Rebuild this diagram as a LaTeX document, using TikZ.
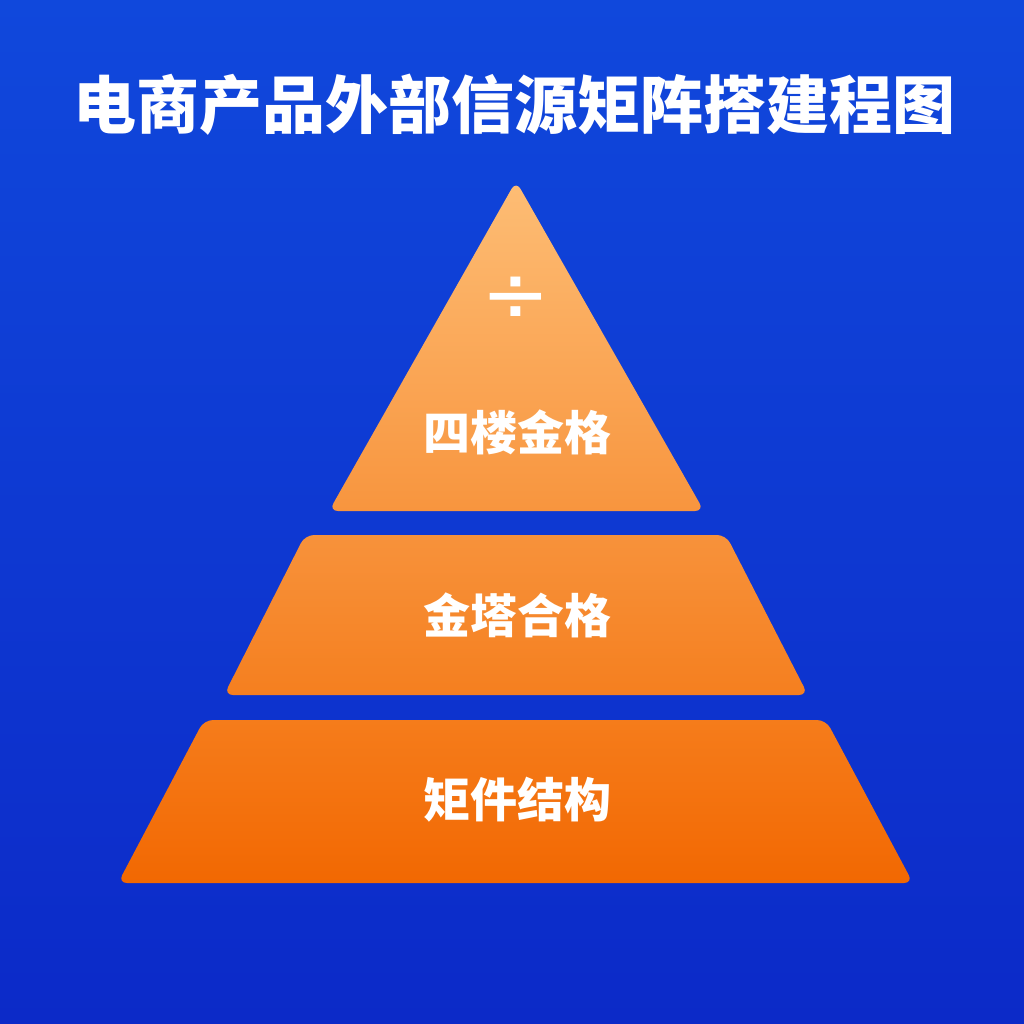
\documentclass[tikz,border=0pt]{standalone}
\usepackage{fontspec}
\newfontfamily\cjk{Noto Sans CJK SC Black}
\newfontfamily\symf{DejaVu Sans}
\usetikzlibrary{calc}
\definecolor{bgtop}{RGB}{16,72,220}
\definecolor{bgbot}{RGB}{12,42,200}
\definecolor{oa}{RGB}{253,189,117}
\definecolor{ob}{RGB}{248,149,62}
\definecolor{oc}{RGB}{247,146,59}
\definecolor{od}{RGB}{245,127,31}
\definecolor{oe}{RGB}{245,124,27}
\definecolor{of}{RGB}{242,104,2}
\tikzset{
  layer/.style={rounded corners=9pt},
  lbl/.style={text=white, font=\cjk\fontsize{47pt}{50pt}\selectfont, inner sep=0pt},
  ttl/.style={text=white, font=\cjk\fontsize{63pt}{66pt}\selectfont, inner sep=0pt}
}
\begin{document}
\begin{tikzpicture}[x=1pt,y=-1pt]
\useasboundingbox (0,0) rectangle (1024,1024);
\shade[top color=bgtop, bottom color=bgbot] (0,0) rectangle (1024,1024);
% title
\node[ttl] (title) at (514,105) {电商产品外部信源矩阵搭建程图};
% top triangle
\shade[layer, top color=oa, bottom color=ob] (516,181) -- (704,511) -- (329,511) -- cycle;
% middle trapezoid
\shade[layer, top color=oc, bottom color=od] (305,535) -- (726,535) -- (808,695) -- (224,695) -- cycle;
% bottom trapezoid
\shade[layer, top color=oe, bottom color=of] (204,720) -- (826,720) -- (913,883) -- (118,883) -- cycle;
% labels
\node[text=white, font=\symf\fontsize{82pt}{84pt}\selectfont, inner sep=0pt] (div) at (516,300) {÷};
\node[lbl] (l1) at (517,432) {四楼金格};
\node[lbl] (l2) at (517,615) {金塔合格};
\node[lbl] (l3) at (517,800) {矩件结构};
\end{tikzpicture}
\end{document}
